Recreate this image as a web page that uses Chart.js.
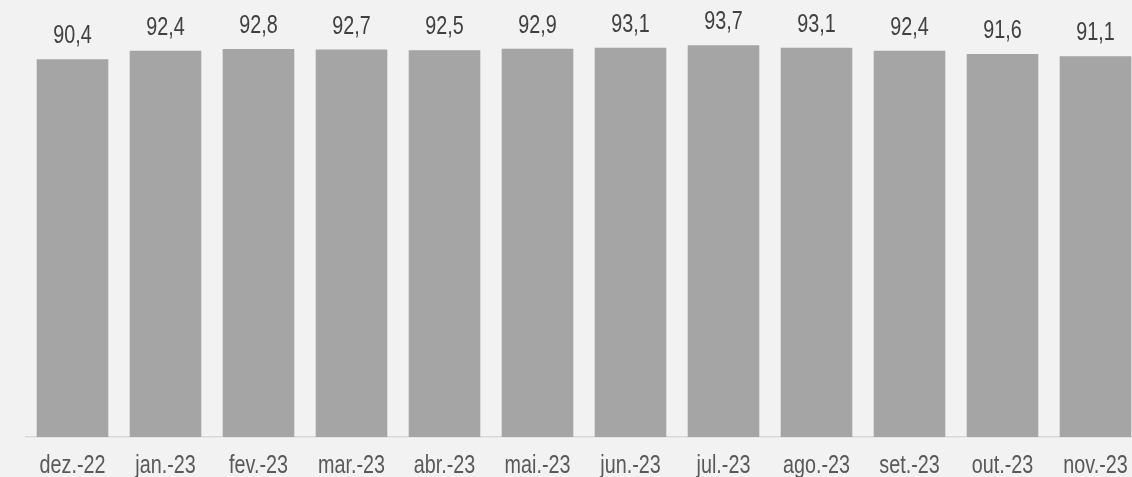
<!DOCTYPE html>
<html>
<head>
<meta charset="utf-8">
<script src="https://cdn.jsdelivr.net/npm/chart.js@4/dist/chart.umd.min.js"></script>
<style>
  html, body { margin: 0; padding: 0; background: #F2F2F2; overflow: hidden; }
  #wrap { position: relative; width: 1142px; height: 477px; }
</style>
</head>
<body>
<div id="wrap"><canvas id="c"></canvas></div>
<script>
const categories = ['dez.-22', 'jan.-23', 'fev.-23', 'mar.-23', 'abr.-23', 'mai.-23',
                    'jun.-23', 'jul.-23', 'ago.-23', 'set.-23', 'out.-23', 'nov.-23'];
const values = [90.4, 92.4, 92.8, 92.7, 92.5, 92.9, 93.1, 93.7, 93.1, 92.4, 91.6, 91.1];

const FONT = '"Liberation Sans", Arial, sans-serif';
const NARROW = 0.79;   // horizontal condensing of label text

const fmt = v => v.toFixed(1).replace('.', ',');

function condensedText(ctx, text, x, y) {
  ctx.save();
  ctx.translate(x, y);
  ctx.scale(NARROW, 1);
  ctx.fillText(text, 0, 0);
  ctx.restore();
}

// Value labels above bars and category labels under the axis
const labelsPlugin = {
  id: 'labelsPlugin',
  afterDatasetsDraw(chart) {
    const ctx = chart.ctx;
    const meta = chart.getDatasetMeta(0);
    const xs = chart.scales.x;
    ctx.save();
    ctx.font = '25px ' + FONT;
    ctx.textAlign = 'center';
    ctx.textBaseline = 'alphabetic';
    ctx.fillStyle = '#404040';
    meta.data.forEach((bar, i) => {
      condensedText(ctx, fmt(values[i]), bar.x, bar.y - 16);
    });
    ctx.fillStyle = '#595959';
    categories.forEach((c, i) => {
      condensedText(ctx, c, xs.getPixelForTick(i), xs.top + 36);
    });
    ctx.restore();
  }
};

new Chart(document.getElementById('c'), {
  type: 'bar',
  data: {
    labels: categories,
    datasets: [{
      data: values,
      backgroundColor: '#A5A5A5',
      borderWidth: 0,
      barPercentage: 0.77,
      categoryPercentage: 1.0
    }]
  },
  options: {
    responsive: true,
    maintainAspectRatio: false,
    animation: false,
    layout: { padding: { left: 26, right: 0, top: 19, bottom: 0 } },
    plugins: { legend: { display: false }, tooltip: { enabled: false } },
    scales: {
      x: {
        grid: { display: false, drawTicks: false },
        border: { display: true, color: '#D9D9D9', width: 1.5 },
        ticks: { display: false },
        afterFit(scale) { scale.height = 40; }
      },
      y: {
        display: false,
        min: 0,
        max: 100
      }
    }
  },
  plugins: [labelsPlugin]
});
</script>
</body>
</html>
